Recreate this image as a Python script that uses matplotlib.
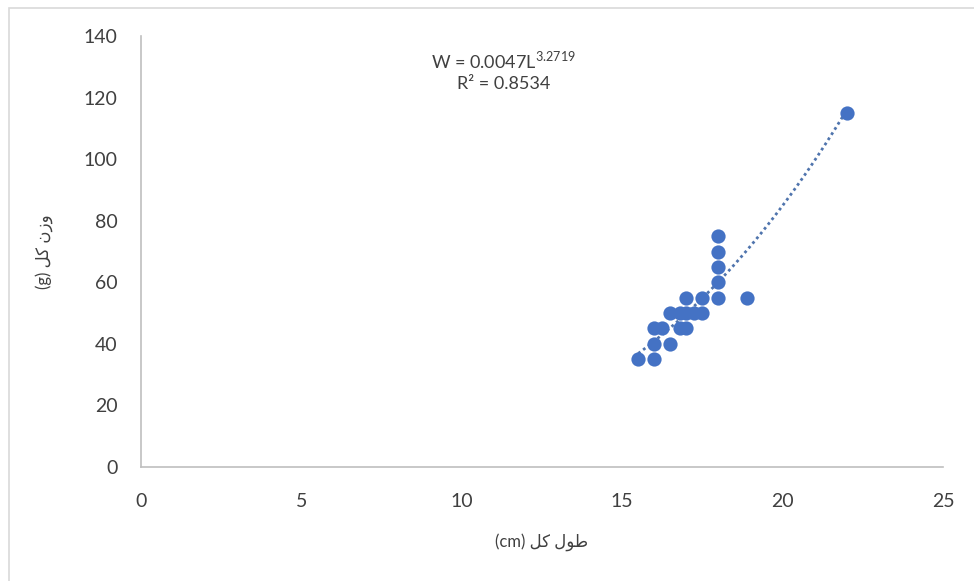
import numpy as np
import matplotlib.pyplot as plt
from matplotlib.patches import Rectangle

# length (cm) vs weight (g)
length_cm = [15.5, 16, 16, 16.5, 16, 16.25, 16.8, 17,
             16.5, 16.8, 17, 17.25, 17.5,
             17, 17.5, 18, 18.9, 18, 18, 18, 18, 22]
weight_g = [35, 35, 40, 40, 45, 45, 45, 45,
            50, 50, 50, 50, 50,
            55, 55, 55, 55, 60, 65, 70, 75, 115]

# power trendline shown on the chart
coef_a = 0.0047
coef_b = 3.2719
r_squared = 0.8534

x_ticks = [0, 5, 10, 15, 20, 25]
y_ticks = [0, 20, 40, 60, 80, 100, 120, 140]

plt.rcParams['font.family'] = ['Lato', 'DejaVu Sans']
plt.rcParams['mathtext.fontset'] = 'custom'
plt.rcParams['mathtext.rm'] = 'Lato'

fig = plt.figure(figsize=(9.74, 5.81), dpi=100)
ax = fig.add_axes([141 / 974, 1 - 467 / 581, (943 - 141) / 974, (467 - 36) / 581])

# chart area border
fig.patches.append(Rectangle((9 / 974, -0.05), 1.2, 1 - 8 / 581 + 0.05,
                             transform=fig.transFigure, fill=False,
                             edgecolor='#d9d9d9', linewidth=1.2))

ax.scatter(length_cm, weight_g, s=105, color='#4472C4', zorder=3, linewidths=0)

xt = np.linspace(min(length_cm), max(length_cm), 100)
ax.plot(xt, coef_a * xt ** coef_b, linestyle=(0, (1, 1.2)), color='#4f74ad',
        linewidth=2, zorder=2)

ax.set_xlim(0, 25)
ax.set_ylim(0, 140)
ax.set_xticks(x_ticks)
ax.set_yticks(y_ticks)
ax.tick_params(length=0, labelsize=14, colors='#404040')
ax.tick_params(axis='y', pad=17)
ax.tick_params(axis='x', pad=19)
for s in ['top', 'right']:
    ax.spines[s].set_visible(False)
for s in ['left', 'bottom']:
    ax.spines[s].set_color('#bfbfbf')
    ax.spines[s].set_linewidth(1.2)

# Persian labels written in visual order with presentation forms
xlabel = '(cm) \uFEDE\uFEDB \uFEDD\uFEEE\uFEC3'
ylabel = '(g) \uFEDE\uFEDB \uFEE5\uFEAF\uFEED'
ax.set_xlabel(xlabel, fontsize=12, color='#404040', labelpad=16)
ax.set_ylabel(ylabel, fontsize=12, color='#404040', labelpad=22)

ax.text(11.3, 128.8,
        'W = %sL$^{%s}$\nR\u00b2 = %s' % (coef_a, coef_b, r_squared),
        ha='center', va='center', fontsize=13, color='#404040',
        linespacing=1.4)

fig.savefig('out.png', dpi=100)
